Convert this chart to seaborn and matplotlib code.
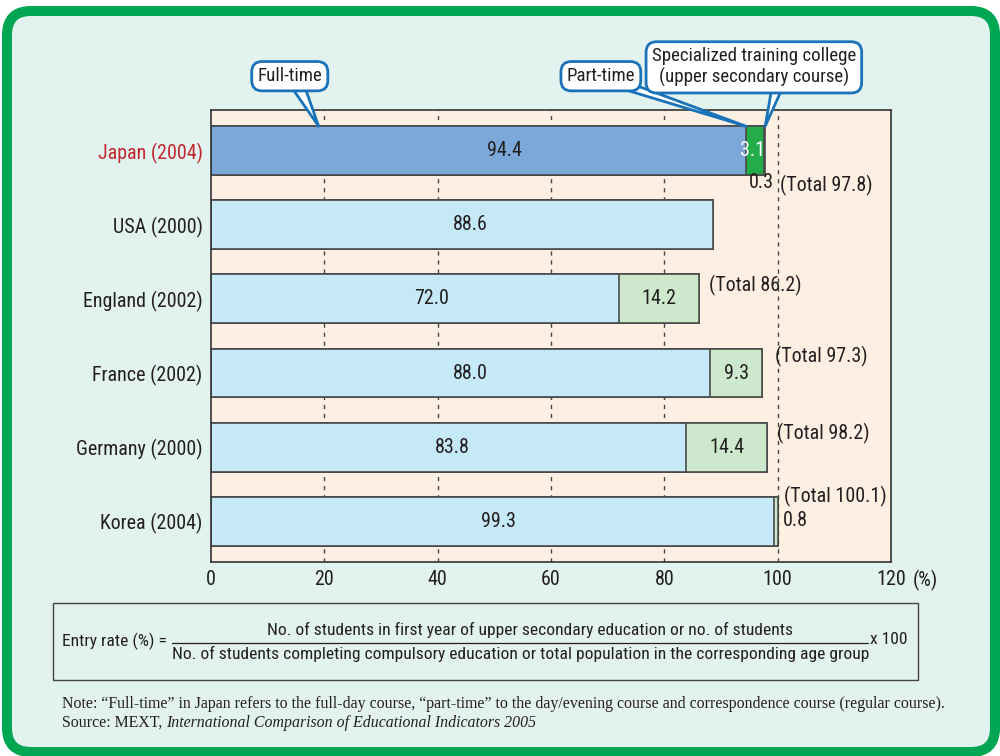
import numpy as np
import pandas as pd
import seaborn as sns
import matplotlib
matplotlib.use("Agg")
import matplotlib.pyplot as plt
from matplotlib import font_manager as fm
from matplotlib.patches import FancyBboxPatch, Rectangle
from matplotlib.transforms import IdentityTransform

# ---- data -------------------------------------------------------------
countries = ["Japan (2004)", "USA (2000)", "England (2002)",
             "France (2002)", "Germany (2000)", "Korea (2004)"]
full_time = [94.4, 88.6, 72.0, 88.0, 83.8, 99.3]
part_time = [3.1, 0.0, 14.2, 9.3, 14.4, 0.8]
specialized = [0.3, 0.0, 0.0, 0.0, 0.0, 0.0]
totals = [97.8, None, 86.2, 97.3, 98.2, 100.1]
x_ticks = [0, 20, 40, 60, 80, 100, 120]
x_tick_labels = ["0", "20", "40", "60", "80", "100", "120"]

# ---- fonts ------------------------------------------------------------
available = {f.name for f in fm.fontManager.ttflist}
SANS = next((n for n in ["Liberation Sans Narrow", "Roboto Condensed",
                         "Open Sans Condensed", "Liberation Sans"]
             if n in available), "DejaVu Sans")
SERIF = "Liberation Serif" if "Liberation Serif" in available else "DejaVu Serif"

sns.set_style("white")
plt.rcParams["font.family"] = [SANS, "DejaVu Sans"]

# ---- colours ----------------------------------------------------------
BG = "#e2f2ee"
PLOT_BG = "#fdf0e2"
EDGE = "#4a4a4a"
TEXT = "#231f20"
JP_FULL, JP_PART, JP_SPEC = "#7ba7d9", "#22ad4a", "#1d5e2f"
FULL, PART = "#c6e9f8", "#cde8cc"
CALLOUT = "#1a73b8"

FS = 14.4      # labels on the chart
FS_CALL = 13.6 # callout boxes
FS_FORM = 12.6 # formula box
FS_NOTE = 11.4 # notes

df = pd.DataFrame({"country": countries, "full": full_time,
                   "part": part_time, "spec": specialized})
df["lvl2"] = df["full"] + df["part"]
df["lvl3"] = df["lvl2"] + df["spec"]

full_pal = {c: (JP_FULL if i == 0 else FULL) for i, c in enumerate(countries)}
part_pal = {c: (JP_PART if i == 0 else PART) for i, c in enumerate(countries)}
spec_pal = {c: (JP_SPEC if i == 0 else PART) for i, c in enumerate(countries)}

fig = plt.figure(figsize=(10, 7.56), dpi=100, facecolor="white")

# rounded green frame behind everything
frame = FancyBboxPatch((7, 4), 988, 741,
                       boxstyle="round,pad=0,rounding_size=24",
                       transform=IdentityTransform(), fc=BG, ec="#00a651",
                       lw=7.2, zorder=-5)
fig.add_artist(frame)

ax = fig.add_axes([0.211, 0.2566, 0.68, 0.598])
ax.set_facecolor(PLOT_BG)

bar_kw = dict(y="country", hue="country", orient="h", width=0.66,
              saturation=1, edgecolor=EDGE, linewidth=1.2, legend=False,
              ax=ax, zorder=2)
# stacked segments: draw cumulative totals, longest first
sns.barplot(data=df, x="lvl3", palette=spec_pal, **bar_kw)
sns.barplot(data=df, x="lvl2", palette=part_pal, **bar_kw)
sns.barplot(data=df, x="full", palette=full_pal, **bar_kw)

for v in x_ticks[1:-1]:
    ax.axvline(v, color="#444444", lw=1.0, ls=(0, (3, 3.5)), zorder=1)

ax.set_xlim(0, 120)
ax.set_ylim(5.55, -0.55)
ax.set_xticks(x_ticks)
ax.set_xticklabels(x_tick_labels)
ax.set_xlabel("")
ax.set_ylabel("")
ax.tick_params(axis="x", length=0, pad=6, labelsize=FS, colors=TEXT)
ax.tick_params(axis="y", length=0, pad=6, labelsize=FS, colors=TEXT)
ax.get_yticklabels()[0].set_color("#c1272d")
for s in ax.spines.values():
    s.set_color("#333333")
    s.set_linewidth(1.2)
    s.set_visible(True)

ax.annotate("(%)", xy=(1, 0), xycoords="axes fraction", xytext=(16, -13),
            textcoords="offset points", ha="left", va="center",
            fontsize=FS, color=TEXT)

# ---- value labels -----------------------------------------------------
full_shift = [4.6, 1.4, 3.0, 1.8, 0.7, 1.0]
for i, v in enumerate(full_time):
    ax.text(v / 2 + full_shift[i], i, f"{v:.1f}", ha="center", va="center",
            fontsize=FS, color=TEXT, zorder=4)

for i in (2, 3, 4):
    ax.text(full_time[i] + part_time[i] / 2, i, f"{part_time[i]:.1f}",
            ha="center", va="center", fontsize=FS, color=TEXT, zorder=4)

# Japan small segments
ax.text(full_time[0] + part_time[0] / 2 - 0.3, 0, f"{part_time[0]:.1f}",
        ha="center", va="center", fontsize=FS, color="white", zorder=4)
ax.text(full_time[0] + 0.6, 0.43, f"{specialized[0]:.1f}", ha="left",
        va="center", fontsize=FS, color=TEXT, zorder=4)

# totals
total_pos = {0: (100.4, 0.47), 2: (87.8, 1.82), 3: (99.5, 2.77),
             4: (99.9, 3.81), 5: (101.1, 4.66)}
for i, (tx, ty) in total_pos.items():
    ax.text(tx, ty, f"(Total {totals[i]:.1f})", ha="left", va="center",
            fontsize=FS, color=TEXT, zorder=4)
ax.text(100.9, 4.99, f"{part_time[5]:.1f}", ha="left", va="center",
        fontsize=FS, color=TEXT, zorder=4)

# ---- callouts ---------------------------------------------------------
def callout(text, xy, xytext, relpos, tail=0.8):
    ax.annotate(text, xy=xy, xytext=xytext, textcoords="data",
                ha="center", va="center", fontsize=FS_CALL, color=TEXT,
                linespacing=1.2,
                bbox=dict(boxstyle="round,pad=0.3,rounding_size=0.55",
                          fc="white", ec=CALLOUT, lw=2),
                arrowprops=dict(arrowstyle=f"wedge,tail_width={tail},shrink_factor=0.5",
                                fc="white", ec=CALLOUT, lw=2, relpos=relpos,
                                patchA=None, shrinkA=0, shrinkB=0),
                annotation_clip=False, zorder=6)

bar_top = -0.33
callout("Full-time", (19.0, bar_top), (13.9, -1.005), (0.6, 0.15), tail=0.7)
callout("Part-time", (full_time[0], bar_top), (68.8, -1.005), (0.72, 0.15), tail=0.45)
callout("Specialized training college\n(upper secondary course)",
        (full_time[0] + part_time[0] + specialized[0], bar_top),
        (95.8, -1.126), (0.62, 0.1), tail=0.6)

# ---- formula box ------------------------------------------------------
fig.add_artist(Rectangle((53 / 1000, 1 - 680 / 756), 865 / 1000, 77 / 756,
                         transform=fig.transFigure, fill=False,
                         ec="#444444", lw=1.0))
fig.text(62 / 1000, 1 - 641 / 756, "Entry rate (%) =", ha="left",
         va="center", fontsize=FS_FORM, color=TEXT)
fig.text(530 / 1000, 1 - 630 / 756,
         "No. of students in first year of upper secondary education or no. of students",
         ha="center", va="center", fontsize=FS_FORM, color=TEXT)
fig.add_artist(plt.Line2D([172 / 1000, 868 / 1000], [1 - 643 / 756] * 2,
                          transform=fig.transFigure, color=TEXT, lw=0.9))
fig.text(521 / 1000, 1 - 654 / 756,
         "No. of students completing compulsory education or total population in the corresponding age group",
         ha="center", va="center", fontsize=FS_FORM, color=TEXT)
fig.text(870 / 1000, 1 - 640 / 756, "x 100", ha="left", va="center",
         fontsize=FS_FORM, color=TEXT)

# ---- notes ------------------------------------------------------------
fig.text(62 / 1000, 1 - 704 / 756,
         "Note: \u201cFull-time\u201d in Japan refers to the full-day course, "
         "\u201cpart-time\u201d to the day/evening course and correspondence course (regular course).",
         ha="left", va="center", fontsize=FS_NOTE, family=SERIF, color=TEXT)
src = fig.text(62 / 1000, 1 - 723 / 756, "Source: MEXT, ", ha="left",
               va="center", fontsize=FS_NOTE, family=SERIF, color=TEXT)
ax.annotate("International Comparison of Educational Indicators 2005",
            xy=(1, 0.5), xycoords=src, ha="left", va="center",
            fontsize=FS_NOTE, family=SERIF, style="italic", color=TEXT,
            annotation_clip=False)

fig.savefig("out.png", dpi=100, facecolor="white")
